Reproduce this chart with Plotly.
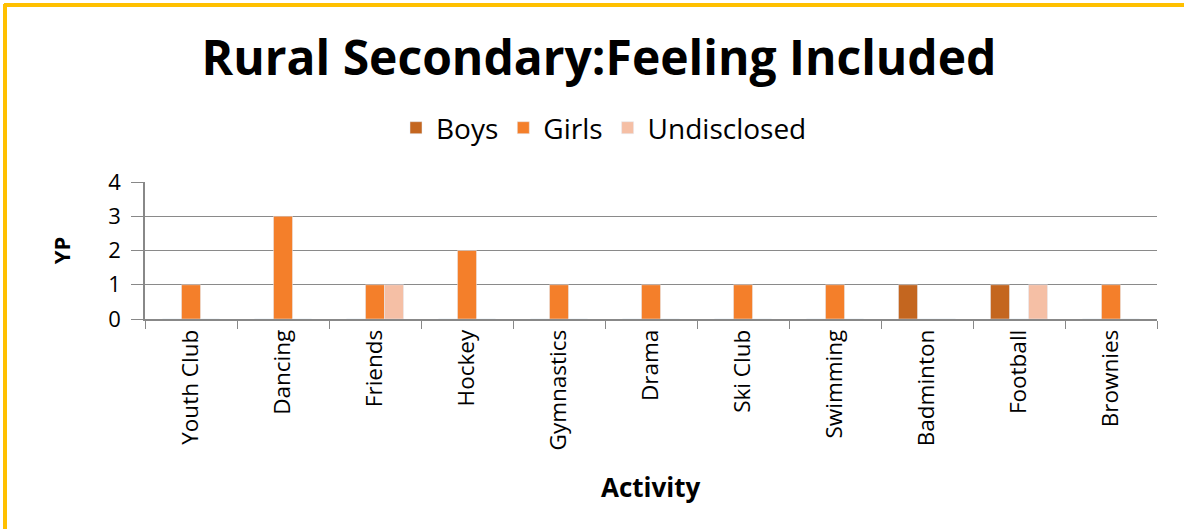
import plotly.graph_objects as go

categories = ["Youth Club", "Dancing", "Friends", "Hockey", "Gymnastics", "Drama",
              "Ski Club", "Swimming", "Badminton", "Football", "Brownies"]
boys = [0, 0, 0, 0, 0, 0, 0, 0, 1, 1, 0]
girls = [1, 3, 1, 2, 1, 1, 1, 1, 0, 0, 1]
undisclosed = [0, 0, 1, 0, 0, 0, 0, 0, 0, 1, 0]

W, H = 1184, 529
L, R, T, B = 145, 27, 182, 210
pw, ph = W - L - R, H - T - B

def px(x):
    return (x - L) / pw

def py(y):
    return (H - B - y) / ph

font = "Open Sans"
fig = go.Figure()
fig.add_bar(name="Boys", x=categories, y=boys, marker_color="#C4661F")
fig.add_bar(name="Girls", x=categories, y=girls, marker_color="#F47F2A")
fig.add_bar(name="Undisclosed", x=categories, y=undisclosed, marker_color="#F5BFA5")

fig.update_layout(
    width=W, height=H,
    margin=dict(l=L, r=R, t=T, b=B),
    paper_bgcolor="white", plot_bgcolor="white",
    barmode="group", bargap=0.38, bargroupgap=0,
    font=dict(family=font, color="black"),
    title=dict(text="<b>Rural Secondary:Feeling Included</b>", x=599 / W, xanchor="center",
               y=1 - 58 / H, yanchor="middle", font=dict(size=48, family=font, color="black")),
    legend=dict(orientation="h", x=px(604), xanchor="center", y=py(128), yanchor="middle",
                font=dict(size=28, family=font), itemwidth=30, traceorder="normal"),
    showlegend=True,
)
fig.update_xaxes(
    showline=True, linecolor="#888888", linewidth=1.5,
    ticks="outside", tickson="boundaries", ticklen=8, tickcolor="#888888",
    tickangle=-90, tickfont=dict(size=22.5, family=font),
)
fig.update_yaxes(
    range=[0, 4], dtick=1, showgrid=True, gridcolor="#8a8a8a", gridwidth=1.2,
    showline=True, linecolor="#888888", linewidth=1.5,
    ticks="outside", ticklen=12, tickcolor="#888888", ticklabelstandoff=6,
    tickfont=dict(size=22, family=font), zeroline=False,
    title=dict(text="<b>YP</b>", font=dict(size=22, family=font), standoff=32),
)

# x-axis title placed as annotation
fig.add_annotation(text="<b>Activity</b>", xref="paper", yref="paper", x=px(651), y=py(487),
                   xanchor="center", yanchor="middle", showarrow=False,
                   font=dict(size=26, family=font, color="black"))

# gold frame (top and left edges)
fig.add_shape(type="line", xref="paper", yref="paper", x0=px(4), x1=px(1184), y0=py(5), y1=py(5),
              line=dict(color="#FFC000", width=4))
fig.add_shape(type="line", xref="paper", yref="paper", x0=px(5), x1=px(5), y0=py(4), y1=py(529),
              line=dict(color="#FFC000", width=4))

fig.write_html("out.html", config={"displayModeBar": False},
               post_script="document.body.style.margin='0';")
